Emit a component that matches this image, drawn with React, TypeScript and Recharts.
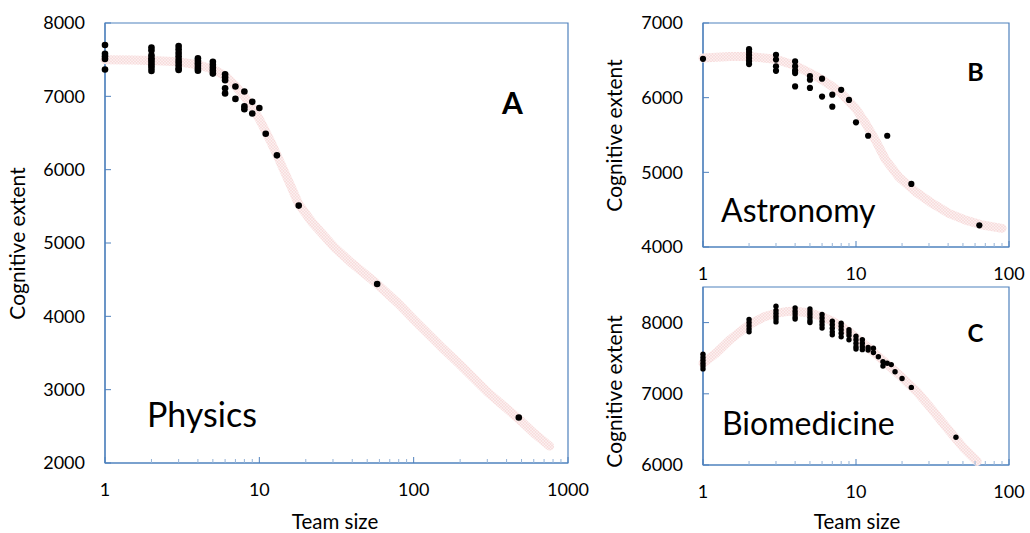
import React from 'react';
import { ScatterChart, Scatter, XAxis, YAxis, ReferenceArea } from 'recharts';

const FONT = 'Lato, "Noto Sans", sans-serif';
const AXIS = '#4F81BD';
const MINOR = '#95B3D7';

// ---------- Panel A: Physics ----------
const physicsSizes = [1, 2, 3, 4, 5, 6, 7, 8, 9, 10, 11, 13, 18, 58, 480];
const physicsValues = [
  [7700, 7580, 7545, 7510, 7365],
  [7665, 7625, 7560, 7520, 7490, 7455, 7420, 7385, 7345],
  [7685, 7640, 7590, 7545, 7500, 7460, 7420, 7380, 7360],
  [7520, 7485, 7450, 7415, 7380, 7350],
  [7470, 7430, 7390, 7350, 7310],
  [7300, 7260, 7220, 7110, 7040],
  [7135, 6965],
  [7065, 6865, 6825],
  [6925, 6765],
  [6840],
  [6490],
  [6195],
  [5510],
  [4440],
  [2620],
];
const physicsFitX = [1, 1.5, 2, 3, 4, 5, 6, 7, 8, 9, 10, 11, 12, 13, 15, 18, 22, 26, 31, 40, 58, 80, 100, 150, 200, 300, 480, 600, 760];
const physicsFitY = [7500, 7495, 7490, 7470, 7430, 7370, 7280, 7140, 7000, 6850, 6690, 6520, 6360, 6200, 5910, 5530, 5280, 5110, 4930, 4720, 4440, 4170, 3960, 3590, 3340, 2970, 2600, 2410, 2230];
const physicsXTicks = [1, 2, 3, 4, 5, 6, 7, 8, 9, 10, 20, 30, 40, 50, 60, 70, 80, 90, 100, 200, 300, 400, 500, 600, 700, 800, 900, 1000];
const physicsXLabels = [1, 10, 100, 1000];
const physicsYTicks = [2000, 3000, 4000, 5000, 6000, 7000, 8000];

// ---------- Panel B: Astronomy ----------
const astroSizes = [1, 2, 3, 4, 5, 6, 7, 8, 9, 10, 12, 16, 23, 64];
const astroValues = [
  [6520],
  [6650, 6610, 6570, 6530, 6490, 6450],
  [6575, 6510, 6420, 6360],
  [6485, 6420, 6365, 6330, 6150],
  [6290, 6240, 6130],
  [6255, 6015],
  [6040, 5880],
  [6105],
  [5970],
  [5670],
  [5490],
  [5490],
  [4845],
  [4290],
];
const astroFitX = [1, 1.5, 2, 3, 4, 5, 6, 7, 8, 10, 11.6, 13.4, 15.6, 19, 24.5, 31.7, 40.5, 52, 67, 90];
const astroFitY = [6530, 6550, 6550, 6515, 6430, 6330, 6240, 6150, 6060, 5850, 5650, 5430, 5170, 4940, 4740, 4580, 4450, 4360, 4295, 4250];
const astroYTicks = [4000, 5000, 6000, 7000];

// ---------- Panel C: Biomedicine ----------
const bioSizes = [1, 2, 3, 4, 5, 6, 7, 8, 9, 10, 11, 12, 13, 14, 15, 16, 17, 18, 20, 23, 45];
const bioValues = [
  [7555, 7510, 7470, 7430, 7390, 7350],
  [8045, 8000, 7955, 7910, 7870],
  [8230, 8170, 8130, 8090, 8050, 8010],
  [8205, 8160, 8120, 8080, 8050],
  [8190, 8150, 8110, 8070, 8030, 8000],
  [8115, 8065, 8015, 7970, 7925],
  [8020, 7970, 7920, 7870, 7830],
  [7990, 7950, 7900, 7850, 7800],
  [7900, 7860, 7820, 7760],
  [7810, 7760, 7710, 7660, 7630],
  [7760, 7710, 7660, 7620],
  [7650, 7615],
  [7640, 7580],
  [7520],
  [7450, 7390],
  [7430],
  [7410],
  [7310],
  [7215],
  [7090],
  [6390],
];
const bioFitX = [1, 1.2, 1.5, 2, 2.5, 3, 3.5, 4, 5, 6, 7, 8, 9, 10, 12, 15, 20, 25, 30, 40, 50, 62];
const bioFitY = [7430, 7560, 7760, 7970, 8080, 8130, 8155, 8160, 8135, 8085, 8020, 7950, 7870, 7790, 7650, 7470, 7230, 7030, 6830, 6500, 6250, 6050];
const bioYTicks = [6000, 7000, 8000];

const smallXTicks = [1, 2, 3, 4, 5, 6, 7, 8, 9, 10, 20, 30, 40, 50, 60, 70, 80, 90, 100];
const smallXLabels = [1, 10, 100];

const toPoints = (sizes: number[], values: number[][]) =>
  sizes.flatMap((s, i) => values[i].map((v) => ({ x: s, y: v })));
const toLine = (xs: number[], ys: number[]) => xs.map((x, i) => ({ x, y: ys[i] }));

const makeXTick = (labels: number[]) => (props: any) => {
  const { x, y, payload } = props;
  const v = payload.value;
  const major = labels.includes(v);
  return (
    <g>
      <line x1={x} x2={x} y1={y} y2={y - (major ? 6 : 4)} stroke={major ? AXIS : MINOR} strokeWidth={1} />
      {major && (
        <text x={x} y={y + 27} dy="0.35em" textAnchor="middle" fontFamily={FONT} fontSize={18} fill="#000">
          {v}
        </text>
      )}
    </g>
  );
};

const YTick = (props: any) => {
  const { x, y, payload } = props;
  return (
    <g>
      <line x1={x} x2={x + 6} y1={y} y2={y} stroke={AXIS} strokeWidth={1} />
      <text x={x - 20} y={y} dy="0.35em" textAnchor="end" fontFamily={FONT} fontSize={18} fill="#000">
        {payload.value}
      </text>
    </g>
  );
};

const NoShape = () => <g />;
const makeDot = (r: number) => (props: any) => <circle cx={props.cx} cy={props.cy} r={r} fill="#000" />;

type PanelProps = {
  id: string;
  width: number;
  height: number;
  margin: { top: number; right: number; bottom: number; left: number };
  xDomain: [number, number];
  yDomain: [number, number];
  xTicks: number[];
  xLabels: number[];
  yTicks: number[];
  dots: { x: number; y: number }[];
  fit: { x: number; y: number }[];
  r: number;
};

function Panel(p: PanelProps) {
  return (
    <ScatterChart width={p.width} height={p.height} margin={p.margin}>
      <defs>
        <pattern id={`tex-${p.id}`} patternUnits="userSpaceOnUse" width="3" height="3">
          <rect width="3" height="3" fill="#FDF4F4" />
          <circle cx="1.5" cy="1.5" r="1.05" fill="none" stroke="#F4C8C8" strokeWidth="0.55" />
        </pattern>
      </defs>
      <XAxis
        type="number"
        dataKey="x"
        scale="log"
        domain={p.xDomain}
        ticks={p.xTicks}
        interval={0}
        height={30}
        tickSize={0}
        tickMargin={0}
        tickLine={false}
        tick={makeXTick(p.xLabels)}
        axisLine={{ stroke: AXIS, strokeWidth: 1.2 }}
      />
      <YAxis
        type="number"
        dataKey="y"
        domain={p.yDomain}
        ticks={p.yTicks}
        interval={0}
        width={60}
        tickSize={0}
        tickMargin={0}
        tickLine={false}
        tick={YTick}
        axisLine={{ stroke: AXIS, strokeWidth: 1.2 }}
      />
      <ReferenceArea
        x1={p.xDomain[0]}
        x2={p.xDomain[1]}
        y1={p.yDomain[0]}
        y2={p.yDomain[1]}
        fill="none"
        fillOpacity={0}
        stroke={AXIS}
        strokeWidth={1.2}
      />
      <Scatter
        data={p.fit}
        line={{ stroke: `url(#tex-${p.id})`, strokeWidth: 9, strokeLinecap: 'round', strokeLinejoin: 'round' }}
        lineType="joint"
        shape={NoShape}
        legendType="none"
        isAnimationActive={false}
      />
      <Scatter data={p.dots} shape={makeDot(p.r)} legendType="none" isAnimationActive={false} />
    </ScatterChart>
  );
}

export default function App() {
  const txt = { fontFamily: FONT, fill: '#000' } as const;
  return (
    <div style={{ position: 'absolute', left: 0, top: 0, width: 1030, height: 533, background: '#fff', overflow: 'hidden' }}>
      <div style={{ position: 'absolute', left: 0, top: 0 }}>
        <Panel
          id="a"
          width={600}
          height={533}
          margin={{ top: 23, right: 32, bottom: 40, left: 45 }}
          xDomain={[1, 1000]}
          yDomain={[2000, 8000]}
          xTicks={physicsXTicks}
          xLabels={physicsXLabels}
          yTicks={physicsYTicks}
          dots={toPoints(physicsSizes, physicsValues)}
          fit={toLine(physicsFitX, physicsFitY)}
          r={3.3}
        />
      </div>
      <div style={{ position: 'absolute', left: 600, top: 0 }}>
        <Panel
          id="b"
          width={430}
          height={290}
          margin={{ top: 23, right: 21, bottom: 13, left: 43 }}
          xDomain={[1, 100]}
          yDomain={[4000, 7000]}
          xTicks={smallXTicks}
          xLabels={smallXLabels}
          yTicks={astroYTicks}
          dots={toPoints(astroSizes, astroValues)}
          fit={toLine(astroFitX, astroFitY)}
          r={3.1}
        />
      </div>
      <div style={{ position: 'absolute', left: 600, top: 270 }}>
        <Panel
          id="c"
          width={430}
          height={263}
          margin={{ top: 17, right: 21, bottom: 38, left: 43 }}
          xDomain={[1, 100]}
          yDomain={[6000, 8500]}
          xTicks={smallXTicks}
          xLabels={smallXLabels}
          yTicks={bioYTicks}
          dots={toPoints(bioSizes, bioValues)}
          fit={toLine(bioFitX, bioFitY)}
          r={2.7}
        />
      </div>
      <svg width={1030} height={533} style={{ position: 'absolute', left: 0, top: 0, pointerEvents: 'none' }}>
        <text {...txt} x={335} y={529} fontSize={20.5} textAnchor="middle">Team size</text>
        <text {...txt} x={857} y={529} fontSize={20.5} textAnchor="middle">Team size</text>
        <text {...txt} x={25} y={243.5} fontSize={21} textAnchor="middle" transform="rotate(-90 25 243.5)">Cognitive extent</text>
        <text {...txt} x={621.5} y={135.5} fontSize={21} textAnchor="middle" transform="rotate(-90 621.5 135.5)">Cognitive extent</text>
        <text {...txt} x={621.5} y={391.5} fontSize={21} textAnchor="middle" transform="rotate(-90 621.5 391.5)">Cognitive extent</text>
        <text {...txt} x={147} y={427} fontSize={34}>Physics</text>
        <text {...txt} x={721} y={222} fontSize={32}>Astronomy</text>
        <text {...txt} x={722} y={435} fontSize={32}>Biomedicine</text>
        <text {...txt} x={512.5} y={113.5} fontSize={30} fontWeight="bold" textAnchor="middle">A</text>
        <text {...txt} x={975.5} y={81} fontSize={25} fontWeight="bold" textAnchor="middle">B</text>
        <text {...txt} x={975.5} y={341.5} fontSize={24} fontWeight="bold" textAnchor="middle">C</text>
      </svg>
    </div>
  );
}
